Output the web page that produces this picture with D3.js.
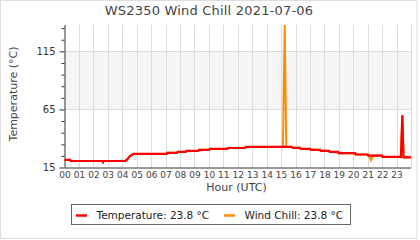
<!DOCTYPE html>
<html>
<head>
<meta charset="utf-8">
<script src="https://cdn.jsdelivr.net/npm/d3@7"></script>
<style>
  html, body { margin: 0; padding: 0; background: #fff; }
  svg { display: block; font-family: "DejaVu Sans", sans-serif; }
</style>
</head>
<body>
<svg id="chart" width="420" height="240"></svg>
<script>
// ---- data ----
const title = "WS2350 Wind Chill 2021-07-06";
const xTickLabels = ["00","01","02","03","04","05","06","07","08","09","10","11",
                     "12","13","14","15","16","17","18","19","20","21","22","23"];
const yMajorTicks = [15, 65, 115];
const yMinorTicks = [25, 35, 45, 55, 75, 85, 95, 105, 125, 135];

const tempHours = [0.00,0.40,0.43,2.62,2.67,2.72,4.20,4.35,4.50,4.65,4.80,7.08,7.12,7.80,7.84,8.40,8.44,
  9.28,9.32,10.03,10.07,11.27,11.31,12.50,12.54,15.77,15.81,16.32,16.36,17.01,17.05,17.70,17.74,
  18.33,18.37,18.95,18.99,20.12,20.16,21.00,21.04,21.99,22.03,23.30,23.40,23.48,24.00];
const tempValues = [21.5,21.5,20.6,20.6,19.6,20.6,20.6,22.0,24.5,25.8,26.7,26.7,27.6,27.6,28.4,28.4,29.3,
  29.3,30.2,30.2,31.0,31.0,31.8,31.8,32.7,32.7,31.9,31.9,31.0,31.0,30.2,30.2,29.3,
  29.3,28.4,28.4,27.3,27.3,26.2,26.2,25.3,25.3,24.1,24.1,60.0,23.8,23.8];

const chillHours = [0.00,0.40,0.43,2.62,2.67,2.72,4.20,4.35,4.50,4.65,4.80,7.08,7.12,7.80,7.84,8.40,8.44,
  9.28,9.32,10.03,10.07,11.27,11.31,12.50,12.54,15.13,15.25,15.36,15.77,15.81,16.32,16.36,17.01,17.05,17.70,17.74,
  18.33,18.37,18.95,18.99,20.12,20.16,21.00,21.04,21.10,21.23,21.37,21.99,22.03,23.30,23.40,23.48,24.00];
const chillValues = [21.5,21.5,20.6,20.6,19.6,20.6,20.6,22.0,24.5,25.8,26.7,26.7,27.6,27.6,28.4,28.4,29.3,
  29.3,30.2,30.2,31.0,31.0,31.8,31.8,32.7,32.7,137.7,32.7,32.7,31.9,31.9,31.0,31.0,30.2,30.2,29.3,
  29.3,28.4,28.4,27.3,27.3,26.2,26.2,25.3,25.3,21.3,25.3,25.3,24.1,24.1,60.0,23.8,23.8];

const legendLabels = ["Temperature: 23.8 °C", "Wind Chill: 23.8 °C"];
const colors = ["#ff0000", "#ff8c00"];

// ---- layout ----
const svg = d3.select("#chart");
const L = 64.5, R = 411, T = 25, B = 167.5;

svg.append("rect").attr("x",0.5).attr("y",0.5).attr("width",416.5).attr("height",238)
  .attr("fill","#fff").attr("stroke","#ddd");

const x = d3.scaleLinear().domain([0, 24]).range([L, R]);
const y = d3.scaleLinear().domain([15, 137.7]).range([B, T]);

// shaded band
svg.append("rect").attr("x", L).attr("y", y(115)).attr("width", R - L)
  .attr("height", y(65) - y(115)).attr("fill", "#f5f5f5");

// vertical grid
svg.append("g").selectAll("line").data(d3.range(1, 25)).join("line")
  .attr("x1", d => Math.round(x(d)) + 0.5).attr("x2", d => Math.round(x(d)) + 0.5)
  .attr("y1", T).attr("y2", B).attr("stroke", "#dcdcdc").attr("stroke-width", 1);
// horizontal grid
svg.append("g").selectAll("line").data([65, 115]).join("line")
  .attr("x1", L).attr("x2", R)
  .attr("y1", d => Math.round(y(d)) + 0.5).attr("y2", d => Math.round(y(d)) + 0.5)
  .attr("stroke", "#dcdcdc");

// y axis
const yAxis = d3.axisLeft(y).tickValues(yMajorTicks).tickSize(5).tickPadding(4).tickFormat(d3.format("d"));
const gy = svg.append("g").attr("transform", `translate(${L},0)`).call(yAxis);
gy.select(".domain").attr("stroke", "#333").attr("d", `M0.5,${T}V${B}`);
gy.selectAll(".tick line").attr("stroke", "#333");
gy.selectAll(".tick text").attr("fill", "#333").attr("font-size", 10).attr("font-family", "DejaVu Sans");
const gyMinor = svg.append("g").attr("transform", `translate(${L},0)`)
  .call(d3.axisLeft(y).tickValues(yMinorTicks).tickSize(3).tickFormat(""));
gyMinor.select(".domain").remove();
gyMinor.selectAll(".tick line").attr("stroke", "#333");

// x axis
const xAxis = d3.axisBottom(x).tickValues(d3.range(0, 24)).tickSize(0).tickPadding(4)
  .tickFormat(d => xTickLabels[d]);
const gx = svg.append("g").attr("transform", `translate(0,${B})`).call(xAxis);
gx.select(".domain").attr("stroke", "#333").attr("d", `M${L},0.5H${R}`);
gx.selectAll(".tick text").attr("fill", "#444").attr("font-size", 9).attr("font-family", "DejaVu Sans");

// lines
const line = d3.line().x(d => x(d[0])).y(d => y(d[1]));
svg.append("path").datum(d3.zip(chillHours, chillValues)).attr("d", line)
  .attr("fill", "none").attr("stroke", colors[1]).attr("stroke-width", 2);
svg.append("path").datum(d3.zip(tempHours, tempValues)).attr("d", line)
  .attr("fill", "none").attr("stroke", colors[0]).attr("stroke-width", 2.2);

// title & axis labels
svg.append("text").attr("x", 209).attr("y", 15).attr("text-anchor", "middle")
  .attr("font-size", 13).attr("fill", "#444").attr("letter-spacing", 0.2).text(title);
svg.append("text").attr("transform", "translate(17,94) rotate(-90)").attr("text-anchor", "middle")
  .attr("font-size", 11).attr("fill", "#444").text("Temperature (°C)");
svg.append("text").attr("x", 236.5).attr("y", 191).attr("text-anchor", "middle")
  .attr("font-size", 11).attr("fill", "#444").text("Hour (UTC)");

// legend
const lg = svg.append("g");
lg.append("rect").attr("x", 71.5).attr("y", 204.5).attr("width", 279).attr("height", 20)
  .attr("fill", "#fff").attr("stroke", "#666");
const legendX = [76, 224];
legendLabels.forEach((t, i) => {
  lg.append("line").attr("x1", legendX[i]).attr("x2", legendX[i] + 11)
    .attr("y1", 215.5).attr("y2", 215.5).attr("stroke", colors[i]).attr("stroke-width", 2.5);
  lg.append("text").attr("x", legendX[i] + 20.5).attr("y", 219).attr("font-size", 10.5)
    .attr("fill", "#222").text(t);
});
</script>
</body>
</html>
